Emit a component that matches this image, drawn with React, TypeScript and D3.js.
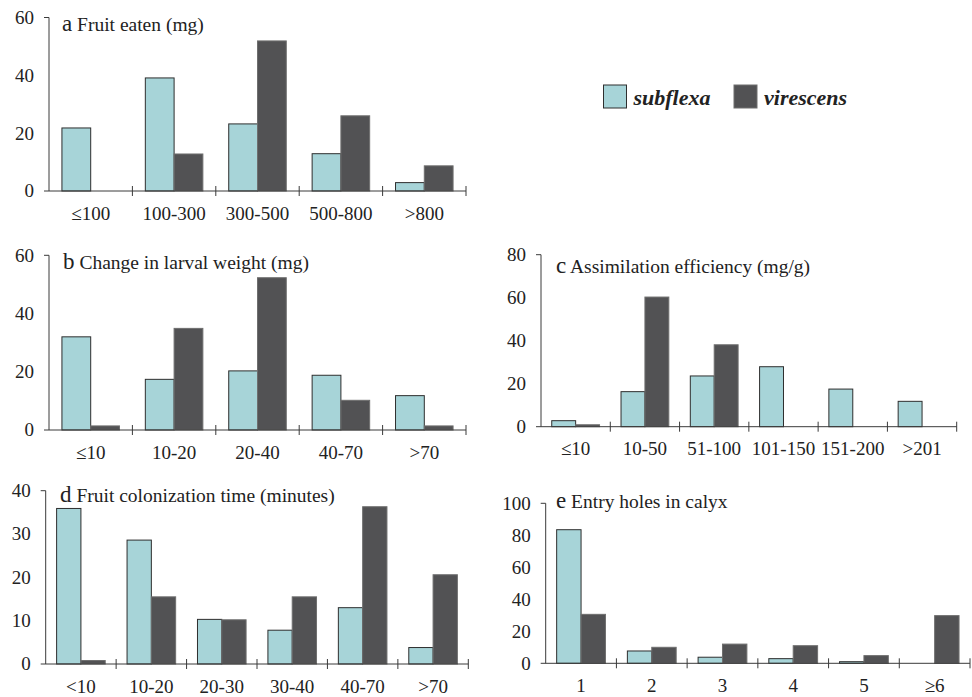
import * as d3 from 'd3';

// values (percent of larvae)
const catsA = ['≤100', '100-300', '300-500', '500-800', '>800'];
const subA = [21.8, 39.1, 23.2, 12.9, 2.9];
const virA = [0, 12.8, 51.9, 26, 8.7];

const catsB = ['≤10', '10-20', '20-40', '40-70', '>70'];
const subB = [32, 17.4, 20.3, 18.8, 11.8];
const virB = [1.4, 34.9, 52.3, 10.2, 1.4];

const catsC = ['≤10', '10-50', '51-100', '101-150', '151-200', '>201'];
const subC = [2.8, 16.3, 23.6, 27.9, 17.5, 11.8];
const virC = [0.9, 60.3, 38.1, 0, 0, 0];

const catsD = ['<10', '10-20', '20-30', '30-40', '40-70', '>70'];
const subD = [35.9, 28.6, 10.3, 7.8, 13, 3.8];
const virD = [0.8, 15.5, 10.2, 15.5, 36.3, 20.6];

const catsE = ['1', '2', '3', '4', '5', '≥6'];
const subE = [83.5, 7.7, 3.8, 2.9, 1, 0];
const virE = [30.6, 10, 12, 11, 4.8, 29.8];

const series = ['subflexa', 'virescens'];
const fills = ['#a7d4d8', '#525254'];
const strokes = ['#2e2e2e', '#6e6e6e'];

interface Panel {
  letter: string;
  title: string;
  cats: string[];
  sub: number[];
  vir: number[];
  max: number;
  step: number;
  x0: number;
  x1: number;
  y0: number;
  yTop: number;
  tx: number;
  ty: number;
}

const panels: Panel[] = [
  { letter: 'a', title: 'Fruit eaten (mg)', cats: catsA, sub: subA, vir: virA, max: 60, step: 20,
    x0: 49, x1: 466, y0: 191, yTop: 17.5, tx: 62, ty: 31 },
  { letter: 'b', title: 'Change in larval weight (mg)', cats: catsB, sub: subB, vir: virB, max: 60, step: 20,
    x0: 49, x1: 466, y0: 430, yTop: 255.3, tx: 63, ty: 269 },
  { letter: 'c', title: 'Assimilation efficiency (mg/g)', cats: catsC, sub: subC, vir: virC, max: 80, step: 20,
    x0: 541, x1: 956.7, y0: 426.7, yTop: 254.7, tx: 556, ty: 273 },
  { letter: 'd', title: 'Fruit colonization time (minutes)', cats: catsD, sub: subD, vir: virD, max: 40, step: 10,
    x0: 45.7, x1: 468.3, y0: 664, yTop: 490.7, tx: 60, ty: 502 },
  { letter: 'e', title: 'Entry holes in calyx', cats: catsE, sub: subE, vir: virE, max: 100, step: 20,
    x0: 545.7, x1: 970, y0: 663.3, yTop: 503.3, tx: 556, ty: 508 },
];

const FONT = 'Liberation Serif';
const AXIS = '#3a3a3a';
const TXT = '#222';

function BarPanel({ p }: { p: Panel }) {
  const x = d3.scaleBand<string>().domain(p.cats).range([p.x0, p.x1]).paddingInner(0.31).paddingOuter(0.155);
  const xs = d3.scaleBand<string>().domain(series).range([0, x.bandwidth()]);
  const y = d3.scaleLinear().domain([0, p.max]).range([p.y0, p.yTop]);
  const yTicks = d3.range(0, p.max + 1, p.step);
  const bounds = d3.range(1, p.cats.length + 1).map((k) => p.x0 + k * x.step());

  return (
    <g>
      {p.cats.map((c, i) =>
        [p.sub[i], p.vir[i]].map((v, s) =>
          v > 0 ? (
            <rect
              key={c + s}
              x={(x(c) || 0) + (xs(series[s]) || 0)}
              y={y(v)}
              width={xs.bandwidth()}
              height={p.y0 - y(v)}
              fill={fills[s]}
              stroke={strokes[s]}
              strokeWidth={1}
            />
          ) : null
        )
      )}
      {/* y axis */}
      <line x1={p.x0} x2={p.x0} y1={p.yTop} y2={p.y0} stroke={AXIS} />
      <line x1={p.x0 - 5} x2={p.x0} y1={p.yTop} y2={p.yTop} stroke={AXIS} />
      {yTicks.map((t) => (
        <text key={t} x={p.x0 - 15} y={y(t)} dy="0.34em" textAnchor="end" fontFamily={FONT} fontSize={19} fill={TXT}>
          {t}
        </text>
      ))}
      {/* x axis */}
      <line x1={p.x0 - 5} x2={p.x1} y1={p.y0} y2={p.y0} stroke={AXIS} />
      {bounds.map((b) => (
        <line key={b} x1={b} x2={b} y1={p.y0 - 5} y2={p.y0 + 5} stroke={AXIS} />
      ))}
      {p.cats.map((c) => (
        <text
          key={c}
          x={(x(c) || 0) + x.bandwidth() / 2}
          y={p.y0 + 28.5}
          textAnchor="middle"
          fontFamily={FONT}
          fontSize={19}
          fill={TXT}
        >
          {c}
        </text>
      ))}
      <text x={p.tx} y={p.ty} fontFamily={FONT} fill={TXT}>
        <tspan fontSize={23}>{p.letter}</tspan>
        <tspan fontSize={19.5}>{' ' + p.title}</tspan>
      </text>
    </g>
  );
}

export default function App() {
  const lx = [603.5, 734];
  return (
    <svg width={972} height={697} style={{ position: 'absolute', left: 0, top: 0, background: '#fff' }}>
      {panels.map((p) => (
        <BarPanel key={p.letter} p={p} />
      ))}
      {series.map((s, i) => (
        <g key={s}>
          <rect x={lx[i]} y={85} width={23} height={23} fill={fills[i]} stroke={strokes[i]} />
          <text
            x={lx[i] + 30}
            y={104.5}
            fontFamily={FONT}
            fontSize={22}
            fontWeight="bold"
            fontStyle="italic"
            fill={TXT}
          >
            {s}
          </text>
        </g>
      ))}
    </svg>
  );
}
